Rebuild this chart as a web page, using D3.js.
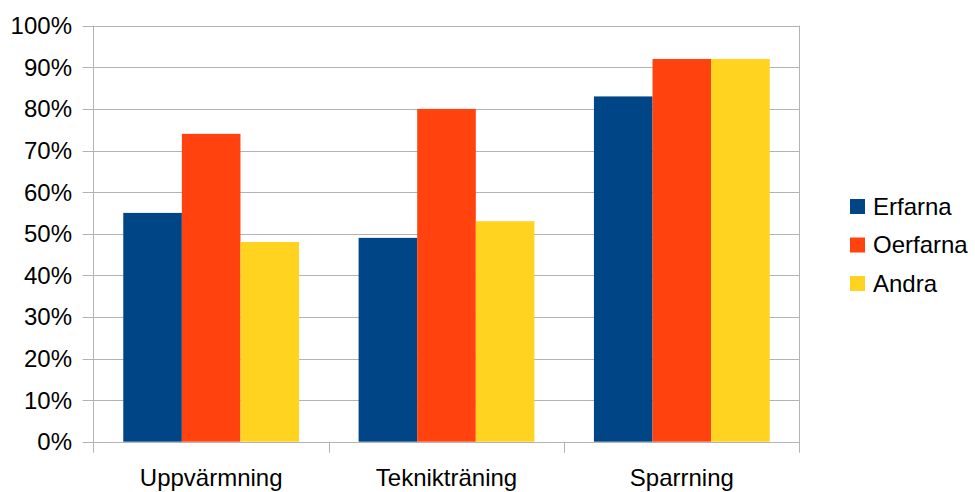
<!DOCTYPE html>
<html>
<head>
<meta charset="utf-8">
<script src="https://cdn.jsdelivr.net/npm/d3@7"></script>
<style>
  html, body { margin: 0; padding: 0; background: #fff; }
  svg { display: block; font-family: "Liberation Sans", Arial, sans-serif; }
</style>
</head>
<body>
<svg id="chart" width="975" height="492"></svg>
<script>
const categories = ["Uppvärmning", "Teknikträning", "Sparrning"];
const seriesNames = ["Erfarna", "Oerfarna", "Andra"];
const erfarna = [0.55, 0.49, 0.83];
const oerfarna = [0.74, 0.80, 0.92];
const andra = [0.48, 0.53, 0.92];
const yTicks = [0, 0.1, 0.2, 0.3, 0.4, 0.5, 0.6, 0.7, 0.8, 0.9, 1.0];
const colors = ["#004586", "#ff420e", "#ffd320"];

const seriesValues = [erfarna, oerfarna, andra];

const svg = d3.select("#chart");
const plotLeft = 93.5, plotRight = 799.5, plotTop = 25.7, plotBottom = 441.7;
const fontSize = 24;

const x = d3.scaleBand().domain(categories).range([plotLeft, plotRight]).paddingInner(0).paddingOuter(0);
const xInner = d3.scaleBand().domain(seriesNames).range([0, x.bandwidth()]).paddingInner(0).paddingOuter(0.508);
const y = d3.scaleLinear().domain([0, 1]).range([plotBottom, plotTop]);

const gridColor = "#b3b3b3";

// horizontal gridlines with left tick marks
svg.append("g").selectAll("line").data(yTicks).join("line")
  .attr("x1", plotLeft - 11).attr("x2", plotRight)
  .attr("y1", d => Math.round(y(d)) + 0.5).attr("y2", d => Math.round(y(d)) + 0.5)
  .attr("stroke", gridColor).attr("stroke-width", 1);

// y tick labels
svg.append("g").selectAll("text").data(yTicks).join("text")
  .attr("x", 72).attr("y", d => y(d))
  .attr("dy", "0.35em")
  .attr("text-anchor", "end")
  .attr("font-size", fontSize)
  .attr("fill", "#000")
  .text(d => d3.format(".0%")(d));

// bars
const groups = svg.append("g").selectAll("g").data(categories).join("g")
  .attr("transform", d => `translate(${x(d)},0)`);
groups.selectAll("rect")
  .data((c, i) => seriesNames.map((s, j) => ({ s, j, v: seriesValues[j][i] })))
  .join("rect")
  .attr("x", d => xInner(d.s))
  .attr("width", xInner.bandwidth())
  .attr("y", d => y(d.v))
  .attr("height", d => y(0) - y(d.v))
  .attr("fill", d => colors[d.j]);

// left and right frame lines
svg.append("line").attr("x1", plotLeft).attr("x2", plotLeft).attr("y1", plotTop).attr("y2", plotBottom + 11)
  .attr("stroke", gridColor);
svg.append("line").attr("x1", plotRight).attr("x2", plotRight).attr("y1", plotTop).attr("y2", plotBottom + 11)
  .attr("stroke", gridColor);

// category boundary ticks below the axis
const boundaries = categories.slice(1).map(c => x(c));
svg.append("g").selectAll("line").data(boundaries).join("line")
  .attr("x1", d => Math.round(d) + 0.5).attr("x2", d => Math.round(d) + 0.5)
  .attr("y1", plotBottom).attr("y2", plotBottom + 11)
  .attr("stroke", gridColor);

// category labels
svg.append("g").selectAll("text").data(categories).join("text")
  .attr("x", d => x(d) + x.bandwidth() / 2)
  .attr("y", 486)
  .attr("text-anchor", "middle")
  .attr("font-size", fontSize)
  .attr("fill", "#000")
  .text(d => d);

// legend
const legend = svg.append("g").selectAll("g").data(seriesNames).join("g")
  .attr("transform", (d, i) => `translate(850,${199 + i * 38.5})`);
legend.append("rect").attr("width", 15).attr("height", 15).attr("fill", (d, i) => colors[i]);
legend.append("text").attr("x", 23).attr("y", 7.5).attr("dy", "0.35em")
  .attr("font-size", fontSize).attr("fill", "#000").text(d => d);
</script>
</body>
</html>
